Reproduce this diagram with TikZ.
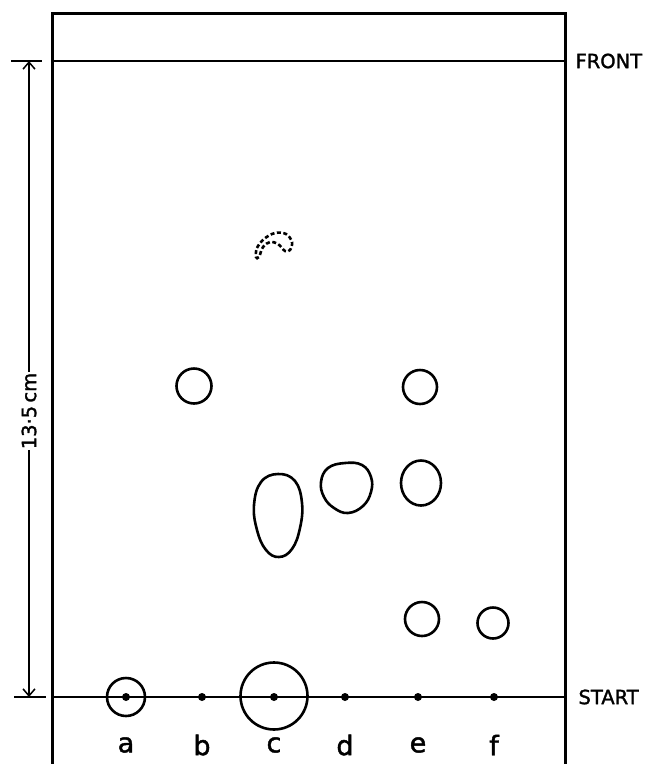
\documentclass[tikz,border=0pt]{standalone}
\usepackage{fontspec}
\setmainfont{DejaVu Sans}
\newfontfamily\lblfont[FakeBold=1.6]{DejaVu Sans}
\usetikzlibrary{arrows.meta,shapes.geometric}
\begin{document}
\begin{tikzpicture}[x=1pt,y=-1pt,
  plate/.style={line width=3pt},
  refline/.style={line width=2pt},
  spot/.style={circle,draw,line width=2.6pt,inner sep=0pt},
  blob/.style={draw,line width=2.6pt},
  dotmark/.style={circle,fill,inner sep=0pt,minimum size=8pt},
  lanelbl/.style={font=\lblfont\fontsize{27}{27}\selectfont},
  sidelbl/.style={font=\lblfont\fontsize{19.5}{19.5}\selectfont,anchor=west},
  dimarrow/.style={line width=1.5pt,-{Straight Barb[length=7pt,width=12pt,line width=1.5pt]}}
]
\useasboundingbox (0,0) rectangle (648,764);
% plate
\draw[plate] (52,764) -- (52,13) -- (565,13) -- (565,764);
\coordinate (frontL) at (52,61);
\coordinate (frontR) at (565,61);
\coordinate (startL) at (52,697);
\coordinate (startR) at (565,697);
\draw[refline] (frontL) -- (frontR);
\draw[refline] (startL) -- (startR);
% ticks and dimension
\coordinate (tickTL) at (11,61);
\coordinate (tickTR) at (42,61);
\coordinate (tickBL) at (14,697);
\coordinate (tickBR) at (46,697);
\draw[line width=1.8pt] (tickTL) -- (tickTR);
\draw[line width=1.8pt] (tickBL) -- (tickBR);
\coordinate (arrTop) at (29,61);
\coordinate (arrBot) at (29,697);
\node[rotate=90,inner sep=0.5pt,font=\lblfont\fontsize{19.5}{19.5}\selectfont] (dim) at (29,411) {13·5\,cm};
\draw[dimarrow] (dim.east) -- (arrTop);
\draw[dimarrow] (dim.west) -- (arrBot);
% labels
\node[sidelbl] (front) at (572,61) {FRONT};
\node[sidelbl] (start) at (575,697) {START};
% origin dots
\node[dotmark] (a) at (126,697) {};
\node[dotmark] (b) at (202,697) {};
\node[dotmark] (c) at (274,697) {};
\node[dotmark] (d) at (345,697) {};
\node[dotmark] (e) at (418,697) {};
\node[dotmark] (f) at (494,697) {};
\node[lanelbl] (la) at (126,745) {a};
\node[lanelbl] (lb) at (202,745) {b};
\node[lanelbl] (lc) at (274,745) {c};
\node[lanelbl] (ld) at (345,745) {d};
\node[lanelbl] (le) at (418,745) {e};
\node[lanelbl] (lf) at (494,745) {f};
% spots
\node[spot,minimum size=38pt] (sa) at (126,697) {};
\node[spot,minimum size=67pt] (sc) at (274,696) {};
\node[spot,minimum size=35pt] (sb1) at (194,386) {};
\node[spot,minimum size=34pt] (se1) at (420,387) {};
\node[draw,line width=2.6pt,inner sep=0pt,ellipse,minimum width=40pt,minimum height=45pt] (se2) at (421,483) {};
\node[spot,minimum size=34pt] (se3) at (422,619) {};
\node[spot,minimum size=31pt] (sf1) at (493,623) {};
% irregular spots
\draw[blob] plot[smooth cycle,tension=0.7] coordinates {(278,474) (295,481) (302,503) (300,528) (292,549) (279,557) (266,550) (257,530) (254,505) (261,482)};
\draw[blob] plot[smooth cycle,tension=0.7] coordinates {(345,463) (362,465) (371,477) (371,492) (363,506) (348,513) (334,508) (324,497) (321,482) (328,468)};
\draw[blob,dash pattern=on 4pt off 2.5pt] plot[smooth cycle,tension=0.6] coordinates {(256,257) (257,248) (264,239) (275,233) (286,234) (292,242) (290,250) (285,251) (278,244) (270,242) (263,247) (259,257)};
\end{tikzpicture}
\end{document}
